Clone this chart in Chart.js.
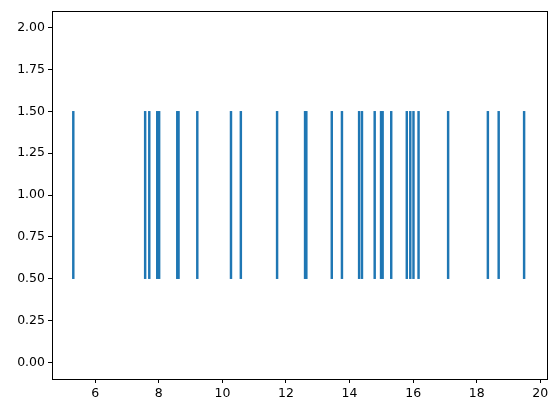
<!DOCTYPE html>
<html>
<head>
<meta charset="utf-8">
<script src="https://cdn.jsdelivr.net/npm/chart.js@4.4.0/dist/chart.umd.min.js"></script>
<style>
  html, body { margin: 0; padding: 0; background: #fff; }
  #wrap { width: 558px; height: 413px; }
</style>
</head>
<body>
<div id="wrap"><canvas id="myChart" width="558" height="413"></canvas></div>
<script>
// event positions
const events = [5.31, 7.57, 7.70, 7.95, 8.01, 8.58, 8.62, 9.21, 10.27, 10.58,
  11.72, 12.60, 12.64, 13.44, 13.76, 14.30, 14.39, 14.79, 14.99, 15.04,
  15.31, 15.80, 15.91, 16.01, 16.17, 17.10, 18.35, 18.69, 19.49];
const lineStart = 0.5;
const lineEnd = 1.5;
const xTicks = [6, 8, 10, 12, 14, 16, 18, 20];
const yTicks = [0, 0.25, 0.5, 0.75, 1.0, 1.25, 1.5, 1.75, 2.0];

const frame = {
  id: 'frame',
  afterDatasetsDraw(chart) {
    const a = chart.chartArea;
    const c = chart.ctx;
    c.save();
    c.strokeStyle = '#000';
    c.lineWidth = 1;
    c.strokeRect(Math.round(a.left) + 0.5, Math.round(a.top) + 0.5,
      Math.round(a.right - a.left), Math.round(a.bottom - a.top));
    c.restore();
  }
};

const ctx = document.getElementById('myChart');
new Chart(ctx, {
  type: 'bar',
  data: {
    datasets: [{
      data: events.map(v => ({ x: v, y: [lineStart, lineEnd] })),
      backgroundColor: '#1f77b4',
      borderWidth: 0,
      barThickness: 1.8
    }]
  },
  options: {
    responsive: false,
    animation: false,
    layout: { padding: { top: 11, right: 11, left: 0, bottom: 0 } },
    plugins: { legend: { display: false }, tooltip: { enabled: false } },
    scales: {
      x: {
        type: 'linear',
        offset: false,
        min: 4.64,
        max: 20.21,
        afterBuildTicks: s => { s.ticks = xTicks.map(v => ({ value: v })); },
        afterFit: s => { s.height = 34; },
        grid: { offset: false, drawOnChartArea: false, drawTicks: true, tickLength: 4, color: '#000' },
        border: { display: false },
        ticks: {
          color: '#000',
          padding: 3,
          maxRotation: 0,
          font: { family: 'DejaVu Sans', size: 12.5 }
        }
      },
      y: {
        type: 'linear',
        min: -0.1,
        max: 2.1,
        afterBuildTicks: s => { s.ticks = yTicks.map(v => ({ value: v })); },
        afterFit: s => { s.width = 52; },
        grid: { drawOnChartArea: false, drawTicks: true, tickLength: 4, color: '#000' },
        border: { display: false },
        ticks: {
          color: '#000',
          padding: 3,
          font: { family: 'DejaVu Sans', size: 12.5 },
          callback: v => v.toFixed(2)
        }
      }
    }
  },
  plugins: [frame]
});
</script>
</body>
</html>
